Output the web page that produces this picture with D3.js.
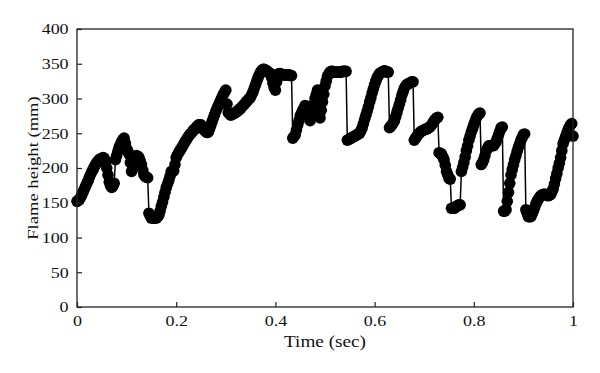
<!DOCTYPE html>
<html><head><meta charset="utf-8">
<script src="https://cdn.jsdelivr.net/npm/d3@7"></script>
<style>body{margin:0;background:#fff}</style>
</head><body><svg id="c" width="600" height="373"></svg>
<script>
// sample times in milliseconds
const timeMs = [
0,2.5,5,7.5,10,12.5,15,17.5,20,22.5,25,27.5,30,32.5,35,37.5,40,42.5,45,47.5,
50,52.5,55,57.5,60,62.5,65,67.5,70,72.5,75,77.5,80,82.5,85,87.5,90,92.5,95,97.5,
100,102.5,105,107.5,110,112.5,115,117.5,120,122.5,125,127.5,130,132.5,135,137.5,140,142.5,145,147.5,
150,152.5,155,157.5,160,162.5,165,167.5,170,172.5,175,177.5,180,182.5,185,187.5,190,192.5,195,197.5,
200,202.5,205,207.5,210,212.5,215,217.5,220,222.5,225,227.5,230,232.5,235,237.5,240,242.5,245,247.5,
250,252.5,255,257.5,260,262.5,265,267.5,270,272.5,275,277.5,280,282.5,285,287.5,290,292.5,295,297.5,
300,302.5,305,307.5,310,312.5,315,317.5,320,322.5,325,327.5,330,332.5,335,337.5,340,342.5,345,347.5,
350,352.5,355,357.5,360,362.5,365,367.5,370,372.5,375,377.5,380,382.5,385,387.5,390,392.5,395,397.5,
400,402.5,405,407.5,410,412.5,415,417.5,420,422.5,425,427.5,430,432.5,435,437.5,440,442.5,445,447.5,
450,452.5,455,457.5,460,462.5,465,467.5,470,472.5,475,477.5,480,482.5,485,487.5,490,492.5,495,497.5,
500,502.5,505,507.5,510,512.5,515,517.5,520,522.5,525,527.5,530,532.5,535,537.5,540,542.5,545,547.5,
550,552.5,555,557.5,560,562.5,565,567.5,570,572.5,575,577.5,580,582.5,585,587.5,590,592.5,595,597.5,
600,602.5,605,607.5,610,612.5,615,617.5,620,622.5,625,627.5,630,632.5,635,637.5,640,642.5,645,647.5,
650,652.5,655,657.5,660,662.5,665,667.5,670,672.5,675,677.5,680,682.5,685,687.5,690,692.5,695,697.5,
700,702.5,705,707.5,710,712.5,715,717.5,720,722.5,725,727.5,730,732.5,735,737.5,740,742.5,745,747.5,
750,752.5,755,757.5,760,762.5,765,767.5,770,772.5,775,777.5,780,782.5,785,787.5,790,792.5,795,797.5,
800,802.5,805,807.5,810,812.5,815,817.5,820,822.5,825,827.5,830,832.5,835,837.5,840,842.5,845,847.5,
850,852.5,855,857.5,860,862.5,865,867.5,870,872.5,875,877.5,880,882.5,885,887.5,890,892.5,895,897.5,
900,902.5,905,907.5,910,912.5,915,917.5,920,922.5,925,927.5,930,932.5,935,937.5,940,942.5,945,947.5,
950,952.5,955,957.5,960,962.5,965,967.5,970,972.5,975,977.5,980,982.5,985,987.5,990,992.5,995,997.5,
1000
];
// flame height (mm)
const flameHeight = [
152,153,155,158,162,166,170,174,178,182,187,191,195,198,202,205,208,210,212,213,
214,215,214,208,200,190,180,175,172,174,178,212,218,224,230,234,238,241,243,236,
228,224,220,208,195,202,210,214,218,217,215,210,205,197,190,188,187,186,135,131,
128,128,128,128,128,130,132,138,145,151,158,165,172,177,182,188,195,196,196,205,
215,219,222,225,228,231,234,237,240,243,246,248,250,252,255,256,258,260,262,262,
262,259,256,254,252,251,252,257,262,267,272,277,282,286,290,294,298,302,306,309,
312,292,280,278,276,277,278,279,280,281,283,284,286,288,290,292,294,296,298,300,
302,306,310,315,320,325,330,334,338,340,342,342,341,340,338,337,336,330,322,316,
312,324,335,336,336,335,334,334,334,334,334,334,333,333,243,245,248,255,262,268,
275,279,283,286,290,286,282,275,268,276,285,292,300,306,312,275,272,283,295,306,
318,325,332,335,338,339,339,338,338,338,338,338,338,338,339,339,339,339,240,241,
242,243,244,245,246,247,248,249,250,254,258,264,270,276,282,288,295,301,308,314,
320,325,330,333,336,337,338,339,340,339,338,338,258,260,262,265,268,274,280,286,
292,298,305,310,315,318,320,321,322,323,324,324,240,243,245,248,250,252,253,254,
255,256,256,257,258,260,262,265,268,270,272,273,222,221,220,216,212,204,195,190,
185,184,142,142,142,143,145,146,147,147,195,201,208,216,225,232,240,246,252,257,
262,267,272,275,278,279,205,208,212,218,225,228,232,232,232,232,232,235,238,243,
248,253,258,259,138,138,140,152,165,178,190,198,205,212,218,224,230,235,240,244,
248,249,140,135,130,130,130,134,138,143,148,152,155,158,160,161,162,162,162,161,
160,161,162,166,170,177,185,192,200,207,215,225,235,240,245,250,255,259,262,264,
246
];
const xTicks = [0, 0.2, 0.4, 0.6, 0.8, 1];
const yTicks = [0, 50, 100, 150, 200, 250, 300, 350, 400];
const xTitle = "Time (sec)";
const yTitle = "Flame height (mm)";

const data = timeMs.map((ms, i) => ({t: ms / 1000, v: flameHeight[i]}));
const svg = d3.select("#c");
const L = 77, R = 573, T = 29, B = 307;
const x = d3.scaleLinear().domain([0, 1]).range([L, R]);
const y = d3.scaleLinear().domain([0, 400]).range([B, T]);
const font = "'Liberation Serif', 'Times New Roman', serif";
const SX = 1.2;

svg.append("rect").attr("width", 600).attr("height", 373).attr("fill", "#fff");

// data
svg.append("path").datum(data)
  .attr("fill", "none").attr("stroke", "#000").attr("stroke-width", 1.5)
  .attr("d", d3.line().x(d => x(d.t)).y(d => y(d.v)));
svg.append("g").selectAll("circle").data(data).join("circle")
  .attr("cx", d => x(d.t)).attr("cy", d => y(d.v)).attr("r", 5.8).attr("fill", "#000");

// frame
svg.append("rect").attr("x", L).attr("y", T).attr("width", R - L).attr("height", B - T)
  .attr("fill", "none").attr("stroke", "#222").attr("stroke-width", 1.3);

const gx = svg.append("g").attr("transform", `translate(0,${B})`)
  .call(d3.axisBottom(x).tickValues(xTicks).tickSize(-5).tickPadding(8).tickFormat(d3.format("~g")));
const gy = svg.append("g").attr("transform", `translate(${L},0)`)
  .call(d3.axisLeft(y).tickValues(yTicks).tickSize(-5).tickPadding(7).tickFormat(d3.format("~g")));
[gx, gy].forEach(g => {
  g.select(".domain").remove();
  g.selectAll(".tick line").attr("stroke", "#222").attr("stroke-width", 1.2);
  g.selectAll(".tick text").attr("fill", "#111").attr("transform", `scale(${SX},1)`)
    .style("font-family", font).style("font-size", "15px");
});

svg.append("text").attr("transform", `translate(${(L + R) / 2},347) scale(${SX},1)`).attr("text-anchor", "middle")
  .style("font-family", font).style("font-size", "16px").attr("fill", "#111").text(xTitle);
svg.append("text").attr("transform", `translate(38,${(T + B) / 2}) rotate(-90) scale(${SX},1)`).attr("text-anchor", "middle")
  .style("font-family", font).style("font-size", "15.5px").attr("fill", "#111").text(yTitle);
</script></body></html>
